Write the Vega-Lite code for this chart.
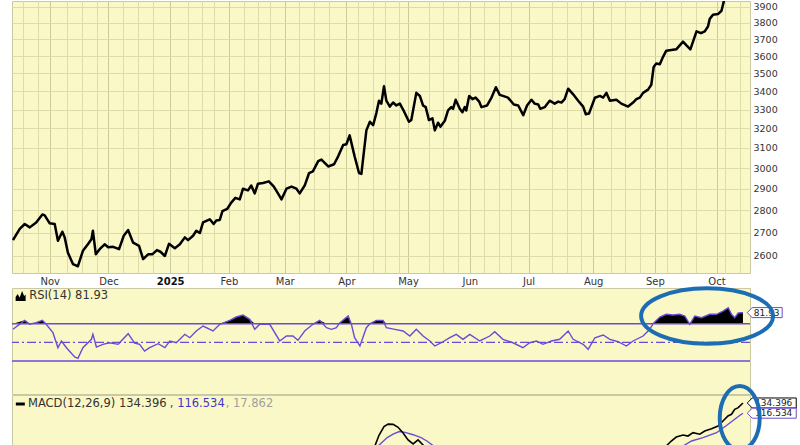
{
  "$schema": "https://vega.github.io/schema/vega-lite/v6.json",
  "padding": {"left": 9, "top": 0, "right": 0, "bottom": 0},
  "background": "#ffffff",
  "bounds": "flush",
  "spacing": 15,
  "config": {
    "view": {"fill": "#FAF8C6", "stroke": "#C9C9A2"},
    "axis": {"labelFont": "DejaVu Sans", "labelColor": "#333333", "ticks": false, "domain": false, "gridColor": "#DEDDAA", "gridWidth": 1, "labelFontSize": 9.5}
  },
  "datasets": {
    "price": [
      {"t":10.5,"close":2668},{"t":12.8,"close":2717},{"t":14.5,"close":2739},{"t":16.2,"close":2724},{"t":18.4,"close":2746},{"t":20.5,"close":2782},{"t":21.3,"close":2778},{"t":23.0,"close":2742},{"t":24.7,"close":2739},{"t":25.8,"close":2665},{"t":27.3,"close":2705},{"t":28.1,"close":2680},{"t":29.2,"close":2614},{"t":30.9,"close":2566},{"t":32.6,"close":2557},{"t":34.3,"close":2622},{"t":36.0,"close":2650},{"t":37.2,"close":2672},{"t":37.7,"close":2709},{"t":38.7,"close":2607},{"t":40.0,"close":2629},{"t":41.7,"close":2650},{"t":42.9,"close":2637},{"t":44.6,"close":2639},{"t":46.6,"close":2629},{"t":48.2,"close":2687},{"t":49.7,"close":2712},{"t":51.4,"close":2657},{"t":53.4,"close":2643},{"t":54.8,"close":2587},{"t":56.5,"close":2607},{"t":57.9,"close":2607},{"t":59.5,"close":2625},{"t":60.7,"close":2618},{"t":62.2,"close":2600},{"t":63.6,"close":2652},{"t":65.6,"close":2633},{"t":67.3,"close":2650},{"t":69.0,"close":2680},{"t":70.1,"close":2668},{"t":71.8,"close":2687},{"t":72.9,"close":2709},{"t":74.1,"close":2699},{"t":75.2,"close":2746},{"t":77.5,"close":2760},{"t":78.8,"close":2739},{"t":79.7,"close":2755},{"t":80.9,"close":2757},{"t":81.8,"close":2797},{"t":83.4,"close":2807},{"t":84.8,"close":2836},{"t":86.2,"close":2858},{"t":87.7,"close":2851},{"t":88.8,"close":2901},{"t":90.5,"close":2893},{"t":91.6,"close":2916},{"t":92.8,"close":2879},{"t":93.9,"close":2925},{"t":95.6,"close":2928},{"t":97.6,"close":2936},{"t":99.3,"close":2911},{"t":100.7,"close":2879},{"t":101.9,"close":2851},{"t":103.6,"close":2901},{"t":105.3,"close":2911},{"t":107.0,"close":2901},{"t":108.1,"close":2879},{"t":109.8,"close":2916},{"t":111.3,"close":2976},{"t":112.6,"close":2984},{"t":114.4,"close":3034},{"t":115.5,"close":3042},{"t":117.8,"close":3008},{"t":119.8,"close":3019},{"t":121.2,"close":3058},{"t":122.9,"close":3115},{"t":124.0,"close":3119},{"t":125.1,"close":3164},{"t":126.8,"close":3058},{"t":128.3,"close":2976},{"t":129.1,"close":2972},{"t":130.8,"close":3190},{"t":132.0,"close":3235},{"t":133.1,"close":3217},{"t":134.2,"close":3281},{"t":135.1,"close":3348},{"t":135.9,"close":3332},{"t":136.8,"close":3428},{"t":137.6,"close":3348},{"t":138.8,"close":3316},{"t":139.9,"close":3338},{"t":141.0,"close":3322},{"t":142.2,"close":3332},{"t":143.3,"close":3300},{"t":145.3,"close":3235},{"t":146.1,"close":3244},{"t":147.8,"close":3391},{"t":149.0,"close":3374},{"t":150.1,"close":3322},{"t":151.0,"close":3313},{"t":152.1,"close":3244},{"t":153.3,"close":3253},{"t":154.1,"close":3190},{"t":155.2,"close":3230},{"t":156.0,"close":3209},{"t":157.5,"close":3240},{"t":158.6,"close":3295},{"t":159.7,"close":3313},{"t":160.3,"close":3304},{"t":161.2,"close":3353},{"t":162.6,"close":3304},{"t":163.5,"close":3286},{"t":164.3,"close":3313},{"t":164.8,"close":3295},{"t":165.8,"close":3374},{"t":166.9,"close":3356},{"t":168.0,"close":3365},{"t":169.2,"close":3343},{"t":170.0,"close":3313},{"t":171.9,"close":3322},{"t":173.4,"close":3365},{"t":174.9,"close":3422},{"t":176.2,"close":3380},{"t":177.3,"close":3374},{"t":179.0,"close":3365},{"t":181.0,"close":3327},{"t":182.5,"close":3322},{"t":184.2,"close":3270},{"t":185.5,"close":3322},{"t":187.0,"close":3353},{"t":188.1,"close":3332},{"t":189.3,"close":3327},{"t":190.0,"close":3304},{"t":191.5,"close":3313},{"t":193.2,"close":3348},{"t":194.9,"close":3332},{"t":196.1,"close":3343},{"t":197.2,"close":3338},{"t":198.3,"close":3356},{"t":199.5,"close":3414},{"t":201.2,"close":3383},{"t":202.9,"close":3348},{"t":204.6,"close":3316},{"t":205.5,"close":3275},{"t":206.6,"close":3279},{"t":207.4,"close":3313},{"t":208.6,"close":3364},{"t":210.3,"close":3374},{"t":211.4,"close":3365},{"t":212.5,"close":3391},{"t":213.7,"close":3348},{"t":215.9,"close":3353},{"t":217.6,"close":3332},{"t":219.9,"close":3316},{"t":221.6,"close":3338},{"t":222.7,"close":3356},{"t":223.9,"close":3365},{"t":225.0,"close":3391},{"t":226.7,"close":3409},{"t":227.8,"close":3436},{"t":228.6,"close":3537},{"t":229.5,"close":3557},{"t":230.7,"close":3553},{"t":231.8,"close":3596},{"t":232.9,"close":3632},{"t":234.6,"close":3636},{"t":236.3,"close":3640},{"t":238.6,"close":3686},{"t":239.7,"close":3665},{"t":241.1,"close":3640},{"t":242.0,"close":3686},{"t":243.2,"close":3748},{"t":244.7,"close":3737},{"t":246.0,"close":3748},{"t":247.1,"close":3778},{"t":247.7,"close":3825},{"t":248.8,"close":3851},{"t":250.5,"close":3855},{"t":251.7,"close":3876},{"t":252.8,"close":3960},{"t":254,"close":4000},{"t":255,"close":4040},{"t":256,"close":3985},{"t":257,"close":4020},{"t":258,"close":4110},{"t":259,"close":4145}
    ],
    "rsi": [
      {"t":10.5,"rsi":64.0},{"t":14.5,"rsi":73.6},{"t":16.2,"rsi":69.4},{"t":18.4,"rsi":71.1},{"t":20.5,"rsi":73.6},{"t":21.8,"rsi":69.4},{"t":24.1,"rsi":60.4},{"t":25.8,"rsi":44.3},{"t":27.0,"rsi":51.5},{"t":28.7,"rsi":44.3},{"t":31.5,"rsi":34.3},{"t":32.6,"rsi":32.9},{"t":34.3,"rsi":44.3},{"t":37.2,"rsi":53.3},{"t":37.7,"rsi":58.6},{"t":38.9,"rsi":45.0},{"t":41.1,"rsi":47.9},{"t":43.4,"rsi":49.6},{"t":46.3,"rsi":47.9},{"t":49.7,"rsi":59.3},{"t":51.9,"rsi":49.3},{"t":53.6,"rsi":47.9},{"t":55.3,"rsi":40.7},{"t":57.0,"rsi":44.3},{"t":59.9,"rsi":48.6},{"t":62.2,"rsi":44.3},{"t":63.9,"rsi":51.5},{"t":66.1,"rsi":49.6},{"t":69.0,"rsi":58.6},{"t":70.7,"rsi":55.0},{"t":72.9,"rsi":62.2},{"t":75.2,"rsi":67.5},{"t":78.6,"rsi":62.2},{"t":80.9,"rsi":69.4},{"t":84.3,"rsi":73.6},{"t":86.5,"rsi":77.2},{"t":88.8,"rsi":79.3},{"t":91.1,"rsi":74.7},{"t":92.8,"rsi":64.0},{"t":94.5,"rsi":69.4},{"t":97.9,"rsi":69.4},{"t":101.3,"rsi":51.5},{"t":103.6,"rsi":56.8},{"t":105.8,"rsi":56.8},{"t":107.5,"rsi":52.2},{"t":109.8,"rsi":62.2},{"t":112.6,"rsi":69.4},{"t":114.9,"rsi":73.6},{"t":117.2,"rsi":65.7},{"t":118.9,"rsi":64.0},{"t":120.6,"rsi":65.7},{"t":121.7,"rsi":70.8},{"t":124.6,"rsi":78.3},{"t":125.7,"rsi":69.4},{"t":126.8,"rsi":55.0},{"t":128.6,"rsi":46.1},{"t":130.8,"rsi":65.7},{"t":132.0,"rsi":70.0},{"t":134.2,"rsi":73.6},{"t":136.5,"rsi":73.6},{"t":137.6,"rsi":65.7},{"t":140.5,"rsi":64.0},{"t":143.3,"rsi":62.2},{"t":145.6,"rsi":56.8},{"t":147.8,"rsi":64.0},{"t":150.1,"rsi":56.8},{"t":152.4,"rsi":51.5},{"t":154.1,"rsi":46.1},{"t":156.3,"rsi":49.6},{"t":159.2,"rsi":55.0},{"t":161.4,"rsi":58.6},{"t":163.7,"rsi":53.3},{"t":166.0,"rsi":58.6},{"t":169.4,"rsi":51.5},{"t":172.8,"rsi":56.8},{"t":174.5,"rsi":61.4},{"t":177.3,"rsi":53.3},{"t":180.7,"rsi":49.6},{"t":184.1,"rsi":44.3},{"t":186.4,"rsi":49.6},{"t":188.7,"rsi":51.5},{"t":190.9,"rsi":47.9},{"t":193.8,"rsi":51.5},{"t":196.6,"rsi":53.3},{"t":199.5,"rsi":62.2},{"t":201.2,"rsi":53.3},{"t":204.6,"rsi":47.9},{"t":206.3,"rsi":42.6},{"t":208.6,"rsi":55.0},{"t":211.4,"rsi":57.9},{"t":213.7,"rsi":53.3},{"t":216.5,"rsi":50.7},{"t":219.3,"rsi":46.1},{"t":221.6,"rsi":51.5},{"t":225.0,"rsi":56.8},{"t":227.3,"rsi":64.0},{"t":228.4,"rsi":70.0},{"t":230.7,"rsi":77.2},{"t":232.9,"rsi":80.1},{"t":235.2,"rsi":79.3},{"t":237.5,"rsi":80.1},{"t":239.2,"rsi":78.3},{"t":240.9,"rsi":69.4},{"t":242.6,"rsi":78.3},{"t":244.9,"rsi":76.4},{"t":247.7,"rsi":80.1},{"t":250.0,"rsi":80.1},{"t":252.2,"rsi":83.6},{"t":254.0,"rsi":87.1},{"t":255.1,"rsi":80.1},{"t":256.2,"rsi":76.4},{"t":257.4,"rsi":81.5},{"t":259,"rsi":81.93}
    ],
    "macd": [
      {"t":10,"macd":42},{"t":20,"macd":35},{"t":30,"macd":15},{"t":40,"macd":2},{"t":50,"macd":-2},{"t":60,"macd":-5},{"t":70,"macd":0},{"t":80,"macd":12},{"t":90,"macd":30},{"t":100,"macd":35},{"t":110,"macd":30},{"t":118,"macd":38},{"t":125,"macd":48},{"t":129,"macd":38},{"t":131,"macd":44},{"t":133,"macd":50},{"t":135.1,"macd":78},{"t":136.8,"macd":93},{"t":138.2,"macd":97.5},{"t":139.9,"macd":97},{"t":141.6,"macd":92},{"t":143.3,"macd":82},{"t":145.0,"macd":70},{"t":146.7,"macd":63},{"t":148.4,"macd":70},{"t":150.1,"macd":61},{"t":151.8,"macd":50},{"t":160,"macd":35},{"t":170,"macd":30},{"t":180,"macd":25},{"t":190,"macd":18},{"t":200,"macd":15},{"t":210,"macd":12},{"t":220,"macd":10},{"t":226,"macd":18},{"t":229,"macd":35},{"t":231,"macd":48},{"t":232.9,"macd":59.3},{"t":234.6,"macd":68},{"t":236.3,"macd":75},{"t":238.6,"macd":78.5},{"t":240.3,"macd":76.7},{"t":242.0,"macd":82.5},{"t":244.3,"macd":79.8},{"t":246.0,"macd":85.5},{"t":248.3,"macd":89.5},{"t":250.5,"macd":94.2},{"t":252.2,"macd":103},{"t":253.9,"macd":111.7},{"t":255.1,"macd":114.7},{"t":256.2,"macd":123.4},{"t":257.4,"macd":126.2},{"t":259,"macd":134.396}
    ],
    "signal": [
      {"t":10,"signal":45},{"t":30,"signal":28},{"t":50,"signal":8},{"t":70,"signal":0},{"t":90,"signal":18},{"t":110,"signal":30},{"t":125,"signal":40},{"t":131,"signal":47},{"t":134.8,"signal":59.3},{"t":137.9,"signal":74},{"t":139.9,"signal":80},{"t":142.0,"signal":84.5},{"t":144,"signal":83},{"t":146.7,"signal":79},{"t":149.4,"signal":74},{"t":151.4,"signal":68},{"t":153.5,"signal":60},{"t":156.9,"signal":50},{"t":170,"signal":32},{"t":190,"signal":20},{"t":210,"signal":13},{"t":225,"signal":15},{"t":232,"signal":35},{"t":238.6,"signal":59.3},{"t":241.5,"signal":68},{"t":245.4,"signal":73.8},{"t":250,"signal":82.5},{"t":253.4,"signal":95},{"t":256.2,"signal":106},{"t":258,"signal":113},{"t":259,"signal":116.534}
    ],
    "levels": [{"level":70},{"level":30}]
  },
  "vconcat": [
    {
      "width": 738,
      "height": 272,
      "data": {"name": "price"},
      "mark": {"type": "line", "color": "#000000", "strokeWidth": 2.5, "clip": true, "strokeJoin": "round"},
      "encoding": {
        "x": {
          "field": "t", "type": "quantitative",
          "scale": {"domain": [10.16, 261.4], "nice": false, "zero": false},
          "axis": {
            "title": null,
            "values": [14,19,23,29,34,39,43,48,53,58,64,70,75,79,84,89,94,98,103,108,113,118,124,128,133,137,142,145,152,157,162,166,171,176,180,186,194,199,204,208,214,219,224,229,233,238,243,250,253,258],
            "labelExpr": "indexof([23,43,64,84,103,124,145,166,186,208,229,250], datum.value) < 0 ? '' : ['Nov','Dec','2025','Feb','Mar','Apr','May','Jun','Jul','Aug','Sep','Oct'][indexof([23,43,64,84,103,124,145,166,186,208,229,250], datum.value)]",
            "gridColor": {"condition": {"test": "indexof([23,43,64,84,103,124,145,166,186,208,229,250], datum.value) >= 0", "value": "#CACA96"}, "value": "#DEDDAA"},
            "labelFontWeight": {"condition": {"test": "datum.value == 64", "value": "bold"}, "value": "normal"},
            "labelColor": {"condition": {"test": "datum.value == 64", "value": "#111111"}, "value": "#333333"},
            "labelFontSize": 10,
            "labelPadding": 3,
            "labelOverlap": false,
            "labelFlush": false
          }
        },
        "y": {
          "field": "close", "type": "quantitative",
          "scale": {"type": "log", "domain": [2529, 3938], "nice": false},
          "axis": {"orient": "right", "title": null, "values": [2600,2700,2800,2900,3000,3100,3200,3300,3400,3500,3600,3700,3800,3900], "format": "d", "labelPadding": 3}
        }
      }
    },
    {
      "bounds": "flush",
      "spacing": 1,
      "vconcat": [
        {
          "width": 738,
          "height": 106,
          "layer": [
            {
              "data": {"name": "rsi"},
              "transform": [{"calculate": "max(datum.rsi, 70)", "as": "top"}],
              "mark": {"type": "area", "color": "#000000", "opacity": 1},
              "encoding": {
                "x": {
                  "field": "t", "type": "quantitative",
                  "scale": {"domain": [10.16, 261.4], "nice": false, "zero": false},
                  "axis": {
                    "title": null, "labels": false,
                    "values": [14,19,23,29,34,39,43,48,53,58,64,70,75,79,84,89,94,98,103,108,113,118,124,128,133,137,142,145,152,157,162,166,171,176,180,186,194,199,204,208,214,219,224,229,233,238,243,250,253,258],
                    "gridColor": {"condition": {"test": "indexof([23,43,64,84,103,124,145,166,186,208,229,250], datum.value) >= 0", "value": "#CACA96"}, "value": "#DEDDAA"}
                  }
                },
                "y": {
                  "field": "top", "type": "quantitative",
                  "scale": {"domain": [-5.35, 108.3], "nice": false, "zero": false},
                  "axis": {"orient": "right", "title": null, "values": [10,30,50,70,90], "labelPadding": 3}
                },
                "y2": {"datum": 70}
              }
            },
            {
              "data": {"name": "levels"},
              "mark": {"type": "rule", "color": "#6B4BD6", "strokeWidth": 1.5},
              "encoding": {"y": {"field": "level", "type": "quantitative", "axis": null}}
            },
            {
              "data": {"values": [{"level": 50}]},
              "mark": {"type": "rule", "color": "#6B4BD6", "strokeWidth": 1.3, "strokeDash": [9, 3, 2, 3]},
              "encoding": {"y": {"field": "level", "type": "quantitative", "axis": null}}
            },
            {
              "data": {"name": "rsi"},
              "mark": {"type": "line", "color": "#6B4BD6", "strokeWidth": 1.4},
              "encoding": {
                "x": {"field": "t", "type": "quantitative", "axis": null},
                "y": {"field": "rsi", "type": "quantitative", "axis": null}
              }
            },
            {
              "data": {"values": [{"label": "RSI(14) 81.93"}]},
              "mark": {"type": "text", "font": "DejaVu Sans", "fontSize": 11.5, "align": "left", "baseline": "middle", "color": "#333333"},
              "encoding": {
                "x": {"datum": 16.0, "axis": null},
                "y": {"datum": 99.7, "axis": null},
                "text": {"field": "label"}
              }
            },
            {
              "data": {"values": [{}]},
              "mark": {"type": "point", "shape": "M-1,1L-1,0.2L-0.6,-0.4L-0.2,0.3L0.3,-1L0.7,0L1,-0.3L1,1Z", "size": 100, "filled": true, "color": "#000000", "opacity": 1},
              "encoding": {"x": {"datum": 13.1, "axis": null}, "y": {"datum": 99.7, "axis": null}}
            },
            {
              "data": {"values": [{"value": "81.93"}]},
              "mark": {"type": "point", "shape": "M-1,0L-0.714,-0.286L1,-0.286L1,0.286L-0.714,0.286Z", "size": 1225, "filled": true, "fill": "#ffffff", "stroke": "#6B4BD6", "strokeWidth": 1, "opacity": 1},
              "encoding": {"x": {"datum": 266.4, "axis": null}, "y": {"datum": 81.93, "axis": null}}
            },
            {
              "data": {"values": [{"value": "81.93"}]},
              "mark": {"type": "text", "font": "DejaVu Sans", "fontSize": 9, "align": "center", "baseline": "middle", "dx": 2, "color": "#222222"},
              "encoding": {"x": {"datum": 266.4, "axis": null}, "y": {"datum": 81.93, "axis": null}, "text": {"field": "value"}}
            },
            {
              "data": {"values": [{}]},
              "mark": {"type": "point", "shape": "M-1,0A1,0.42,0,1,0,1,0A1,0.42,0,1,0,-1,0Z", "size": 17424, "filled": false, "stroke": "#1D6DB5", "strokeWidth": 4, "opacity": 1},
              "encoding": {"x": {"datum": 246.8, "axis": null}, "y": {"datum": 78.3, "axis": null}}
            }
          ]
        },
        {
          "width": 738,
          "height": 51,
          "layer": [
            {
              "data": {"name": "signal"},
              "mark": {"type": "line", "color": "#6B4BD6", "strokeWidth": 1.4, "clip": true},
              "encoding": {
                "x": {
                  "field": "t", "type": "quantitative",
                  "scale": {"domain": [10.16, 261.4], "nice": false, "zero": false},
                  "axis": {
                    "title": null, "labels": false,
                    "values": [14,19,23,29,34,39,43,48,53,58,64,70,75,79,84,89,94,98,103,108,113,118,124,128,133,137,142,145,152,157,162,166,171,176,180,186,194,199,204,208,214,219,224,229,233,238,243,250,253,258],
                    "gridColor": {"condition": {"test": "indexof([23,43,64,84,103,124,145,166,186,208,229,250], datum.value) >= 0", "value": "#CACA96"}, "value": "#DEDDAA"}
                  }
                },
                "y": {
                  "field": "signal", "type": "quantitative",
                  "scale": {"domain": [59.3, 148.3], "nice": false, "zero": false},
                  "axis": {"orient": "right", "title": null, "values": [75, 100, 125], "labelPadding": 3}
                }
              }
            },
            {
              "data": {"name": "macd"},
              "mark": {"type": "line", "color": "#000000", "strokeWidth": 1.6, "clip": true},
              "encoding": {
                "x": {"field": "t", "type": "quantitative", "axis": null},
                "y": {"field": "macd", "type": "quantitative", "axis": null}
              }
            },
            {
              "data": {"values": [{}]},
              "mark": {"type": "point", "shape": "M-1,-0.33L1,-0.33L1,0.33L-1,0.33Z", "size": 81, "filled": true, "color": "#000000", "opacity": 1},
              "encoding": {"x": {"datum": 13.0, "axis": null}, "y": {"datum": 132.6, "axis": null}}
            },
            {
              "data": {"values": [{"label": "MACD(12,26,9) 134.396"}]},
              "mark": {"type": "text", "font": "DejaVu Sans", "fontSize": 11.5, "align": "left", "baseline": "middle", "color": "#333333"},
              "encoding": {"x": {"datum": 15.6, "axis": null}, "y": {"datum": 132.6, "axis": null}, "text": {"field": "label"}}
            },
            {
              "data": {"values": [{"label": ", 116.534"}]},
              "mark": {"type": "text", "font": "DejaVu Sans", "fontSize": 11.5, "align": "left", "baseline": "middle", "color": "#4433CC"},
              "encoding": {"x": {"datum": 63.9, "axis": null}, "y": {"datum": 132.6, "axis": null}, "text": {"field": "label"}}
            },
            {
              "data": {"values": [{"label": ", 17.862"}]},
              "mark": {"type": "text", "font": "DejaVu Sans", "fontSize": 11.5, "align": "left", "baseline": "middle", "color": "#A0A0A0"},
              "encoding": {"x": {"datum": 82.9, "axis": null}, "y": {"datum": 132.6, "axis": null}, "text": {"field": "label"}}
            },
            {
              "data": {"values": [{"value": 134.396, "label": "134.396", "kind": "macd"}, {"value": 116.534, "label": "116.534", "kind": "signal"}]},
              "mark": {"type": "point", "shape": "M-1,0L-0.796,-0.204L1,-0.204L1,0.204L-0.796,0.204Z", "size": 2401, "filled": true, "fill": "#ffffff", "strokeWidth": 1, "opacity": 1},
              "encoding": {
                "x": {"datum": 268.8, "axis": null},
                "y": {"field": "value", "type": "quantitative", "axis": null},
                "stroke": {"field": "kind", "type": "nominal", "scale": {"domain": ["macd", "signal"], "range": ["#000000", "#6B4BD6"]}, "legend": null}
              }
            },
            {
              "data": {"values": [{"value": 134.396, "label": "134.396"}, {"value": 116.534, "label": "116.534"}]},
              "mark": {"type": "text", "font": "DejaVu Sans", "fontSize": 9, "align": "center", "baseline": "middle", "dx": 2, "color": "#222222"},
              "encoding": {
                "x": {"datum": 268.8, "axis": null},
                "y": {"field": "value", "type": "quantitative", "axis": null},
                "text": {"field": "label"}
              }
            },
            {
              "data": {"values": [{}]},
              "mark": {"type": "point", "shape": "M-1,0A1,1.6,0,1,0,1,0A1,1.6,0,1,0,-1,0Z", "size": 1600, "filled": false, "stroke": "#1D6DB5", "strokeWidth": 4, "opacity": 1},
              "encoding": {"x": {"datum": 257.9, "axis": null}, "y": {"datum": 108.2, "axis": null}}
            }
          ]
        }
      ]
    }
  ]
}
